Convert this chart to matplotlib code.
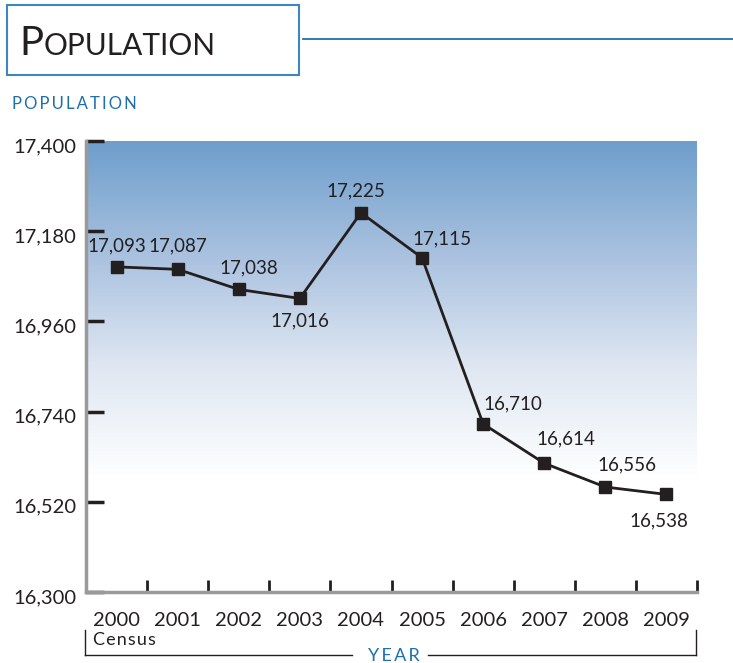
import numpy as np
import matplotlib
matplotlib.use("Agg")
import matplotlib.pyplot as plt
import matplotlib.transforms as mtransforms
from matplotlib.patches import Rectangle
from matplotlib.lines import Line2D
from matplotlib.colors import LinearSegmentedColormap

# data
years = ["2000", "2001", "2002", "2003", "2004", "2005", "2006", "2007", "2008", "2009"]
population = [17093, 17087, 17038, 17016, 17225, 17115, 16710, 16614, 16556, 16538]
y_ticks = [16300, 16520, 16740, 16960, 17180, 17400]

# label offsets in pixels (dx, dy), positive dy = up
label_offsets = [(0, 21), (0, 23), (10, 22), (0, -22), (-5, 22), (20, 19), (30, 20), (22, 24), (22, 22), (-8, -26)]

W, H = 733, 663
plt.rcParams['font.family'] = ['Lato', 'DejaVu Sans']
fig = plt.figure(figsize=(W / 100, H / 100), dpi=100)

def fx(x):
    return x / W

def fy(y):
    return 1 - y / H

BLUE = "#1f6fae"
TEXT = "#231f20"

ax = fig.add_axes([fx(86), fy(592), fx(697) - fx(86), fy(141) - fy(592)])
ax.set_xlim(-0.5, 9.5)
ax.set_ylim(16300, 17400)

# gradient background
grad = LinearSegmentedColormap.from_list("bg", ["#ffffff", "#ffffff", "#dfe7f2", "#a9c1df", "#6e9ecc"])
ax.imshow(np.linspace(0, 1, 256).reshape(-1, 1), aspect="auto", cmap=grad, origin="lower",
          extent=(-0.5, 9.5, 16300, 17400), zorder=0)

x = np.arange(len(years))
ax.plot(x, population, color=TEXT, lw=2, marker="s", markersize=9, zorder=3)

for i, v in enumerate(population):
    dx, dy = label_offsets[i]
    ax.annotate(f"{v:,}", (i, v), xytext=(dx, dy), textcoords="offset pixels",
                ha="center", va="center", fontsize=13.5, color=TEXT)

for s in ["top", "right"]:
    ax.spines[s].set_visible(False)
for s in ["left", "bottom"]:
    ax.spines[s].set_color("#9a9a9a")
    ax.spines[s].set_linewidth(2.5)

ax.set_yticks(y_ticks)
ax.set_yticklabels([f"{t:,}" for t in y_ticks], fontsize=14.5, color=TEXT)
ax.tick_params(axis="y", direction="in", length=13, width=2.5, color=TEXT, pad=7)
shift = mtransforms.ScaledTranslation(0, -4 / 100, fig.dpi_scale_trans)
for lab in ax.get_yticklabels():
    lab.set_transform(lab.get_transform() + shift)

ax.set_xticks(np.arange(len(years)) + 0.5)
ax.set_xticklabels([])
ax.tick_params(axis="x", direction="in", length=9, width=2, color=TEXT)

for i, yr in enumerate(years):
    ax.annotate(yr, (i, 16300), xytext=(0, -28), textcoords="offset pixels",
                ha="center", va="center", fontsize=14.5, color=TEXT, annotation_clip=False)

# census note and year bracket
fig.text(fx(93), fy(640), "C\u200ae\u200an\u200as\u200au\u200as", fontsize=13, color=TEXT, ha="left", va="center")
lw = 1
fig.add_artist(Line2D([fx(85), fx(85)], [fy(630), fy(655)], color=TEXT, lw=lw))
fig.add_artist(Line2D([fx(696), fx(696)], [fy(630), fy(655)], color=TEXT, lw=lw))
fig.add_artist(Line2D([fx(85), fx(352)], [fy(655), fy(655)], color=TEXT, lw=lw))
fig.add_artist(Line2D([fx(428), fx(696)], [fy(655), fy(655)], color=TEXT, lw=lw))
fig.text(fx(394), fy(656), "Y\u2009E\u2009A\u2009R", fontsize=13, color=BLUE, ha="center", va="center")

# header box
fig.add_artist(Rectangle((fx(7), fy(75)), fx(299) - fx(7), fy(5) - fy(75), transform=fig.transFigure,
                         fill=False, edgecolor="#3d86c0", lw=1.5))
fig.add_artist(Line2D([fx(303), fx(733)], [fy(39), fy(39)], color=BLUE, lw=1.3))
fig.text(fx(19), fy(55), "P", fontsize=29, color=TEXT, ha="left", va="baseline")
fig.text(fx(44), fy(55), "OPULATION", fontsize=21.5, color=TEXT, ha="left", va="baseline")

fig.text(fx(12), fy(104), "P\u2009O\u2009P\u2009U\u2009L\u2009A\u2009T\u2009I\u2009O\u2009N",
         fontsize=12, color=BLUE, ha="left", va="center")

fig.savefig("out.png", dpi=100)
